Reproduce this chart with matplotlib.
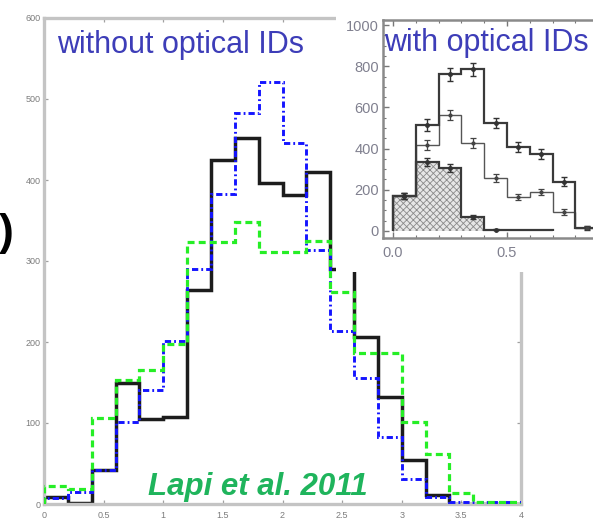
import numpy as np
import matplotlib
matplotlib.use("Agg")
import matplotlib.pyplot as plt
from matplotlib.patches import Rectangle
from matplotlib.ticker import MultipleLocator, FixedLocator, FormatStrFormatter

plt.rcParams['font.family'] = ['Liberation Sans', 'DejaVu Sans']
plt.rcParams['lines.scale_dashes'] = False
plt.rcParams['hatch.linewidth'] = 0.6
plt.rcParams['hatch.color'] = '#8a8a8a'

# ---- main panel: redshift distributions (bin width 0.2) ----
z_edges = [0.0, 0.2, 0.4, 0.6, 0.8, 1.0, 1.2, 1.4, 1.6, 1.8, 2.0,
           2.2, 2.4, 2.6, 2.8, 3.0, 3.2, 3.4, 3.6, 3.8, 4.0]
counts_black = [9, 1, 42, 149, 105, 107, 264, 425, 452, 396, 381,
                410, 290, 206, 132, 54, 11, 0, 0, 0]
counts_blue = [7, 15, 42, 101, 141, 201, 290, 383, 483, 521, 446,
               314, 213, 156, 83, 31, 9, 2, 2, 2]
counts_green = [22, 19, 106, 153, 165, 198, 323, 323, 348, 311, 311,
                325, 262, 186, 186, 101, 62, 14, 3, 2]
main_xticks = [0, 0.5, 1, 1.5, 2, 2.5, 3, 3.5, 4]
main_xticklabels = ['0', '0.5', '1', '1.5', '2', '2.5', '3', '3.5', '4']
main_yticks = [0, 100, 200, 300, 400, 500, 600]

# ---- inset: distributions with optical IDs (bin width 0.1) ----
inset_edges = [0.0, 0.1, 0.2, 0.3, 0.4, 0.5, 0.6, 0.7, 0.8, 0.9]
inset_all = [170, 515, 760, 785, 524, 408, 374, 238, 15]
inset_all_err = [14, 28, 30, 30, 26, 24, 24, 22, 10]
inset_mid = [170, 417, 563, 427, 257, 165, 189, 92, 15]
inset_mid_err = [14, 24, 26, 24, 20, 16, 16, 14, 8]
inset_low_edges = [0.0, 0.1, 0.2, 0.3, 0.4, 0.5, 0.6, 0.7]
inset_low = [170, 335, 305, 68, 6, 4, 3]
inset_low_err = [14, 18, 18, 10, 4, 3, 2]

W, H = 593, 525
fig = plt.figure(figsize=(W / 100, H / 100), dpi=100)
fig.patch.set_facecolor('white')

def fx(px):
    return px / W

def fy(py):
    return 1 - py / H

# main axes
ax = fig.add_axes([fx(44), fy(504), fx(521) - fx(44), fy(18) - fy(504)])
ax.set_zorder(0)
ax.stairs(counts_black, z_edges, color='#1c1c1c', lw=2.5, zorder=2)
ax.stairs(counts_blue, z_edges, color='#1414ff', lw=2.1,
          linestyle=(0, (4.5, 2.2, 1.3, 2.2)), zorder=3)
ax.stairs(counts_green, z_edges, color='#26ee26', lw=2.3,
          linestyle=(0, (5.0, 3.0)), zorder=4)
ax.set_xlim(0, 4)
ax.set_ylim(0, 600)
ax.xaxis.set_major_locator(FixedLocator(main_xticks))
ax.set_xticklabels(main_xticklabels)
ax.yaxis.set_major_locator(FixedLocator(main_yticks))
for s in ax.spines.values():
    s.set_color('#c4c4c4')
    s.set_linewidth(2.4)
ax.tick_params(direction='in', length=3, width=0.9, color='#a0a0a0',
               labelsize=6.5, labelcolor='#7c7c7c', top=True, right=True)
ax.tick_params(axis='x', pad=5)
ax.tick_params(axis='y', pad=2.5)

fig.text(fx(57), fy(53), 'without optical IDs', fontsize=22,
         color='#3d3db8', ha='left', va='baseline')
fig.text(fx(148), fy(495), 'Lapi et al. 2011', fontsize=22.5,
         fontweight='bold', fontstyle='italic', color='#1fb45c',
         ha='left', va='baseline', zorder=5)
fig.text(fx(-1), fy(233), ')', fontsize=32, fontweight='bold',
         color='black', ha='left', va='center')

# white backing behind the inset panel
fig.patches.append(Rectangle((fx(336), fy(272)), 1 - fx(336), fy(0) - fy(272),
                             transform=fig.transFigure, facecolor='white',
                             edgecolor='none', zorder=1))

# inset axes
ins = fig.add_axes([fx(383), fy(238), fx(603) - fx(383), fy(20) - fy(238)])
ins.set_zorder(2)
ins.stairs(inset_low, inset_low_edges, fill=True, facecolor='#e6e6e6',
           edgecolor='#8a8a8a', hatch='xxxxx', linewidth=0)
ins.stairs(inset_low, inset_low_edges, color='#3a3a3a', lw=1.6)
ins.stairs(inset_mid, inset_edges, color='#555555', lw=1.0)
ins.stairs(inset_all, inset_edges, color='#3a3a3a', lw=1.6)
centers = np.array(inset_edges[:-1]) + 0.05
low_centers = np.array(inset_low_edges[:-1]) + 0.05
ins.errorbar(centers, inset_all, yerr=inset_all_err, fmt='o', ms=2.5,
             color='#333333', elinewidth=1.0, capsize=2, capthick=1.0)
ins.errorbar(centers, inset_mid, yerr=inset_mid_err, fmt='o', ms=2.0,
             color='#444444', elinewidth=0.9, capsize=2, capthick=0.9)
ins.errorbar(low_centers[:5], inset_low[:5], yerr=inset_low_err[:5], fmt='o',
             ms=2.5, color='#333333', elinewidth=1.0, capsize=2, capthick=1.0)
ins.set_xlim(-0.044, 0.921)
ins.set_ylim(-35, 1025)
ins.xaxis.set_major_locator(MultipleLocator(0.5))
ins.xaxis.set_minor_locator(MultipleLocator(0.1))
ins.yaxis.set_major_locator(MultipleLocator(200))
ins.yaxis.set_minor_locator(MultipleLocator(50))
ins.xaxis.set_major_formatter(FormatStrFormatter('%.1f'))
for s in ins.spines.values():
    s.set_color('#8a8a8a')
    s.set_linewidth(1.8)
ins.tick_params(which='both', direction='in', color='#777777', top=True,
                right=True, labelsize=10.5, labelcolor='#80808f')
ins.tick_params(which='major', length=4, width=1.0)
ins.tick_params(which='minor', length=2.5, width=0.8)
ins.tick_params(axis='y', pad=3)
ins.tick_params(axis='x', pad=6)

fig.text(fx(384), fy(51), 'with optical IDs', fontsize=22,
         color='#3d3db8', ha='left', va='baseline', zorder=5)

fig.savefig('out.png', dpi=100, facecolor='white')
